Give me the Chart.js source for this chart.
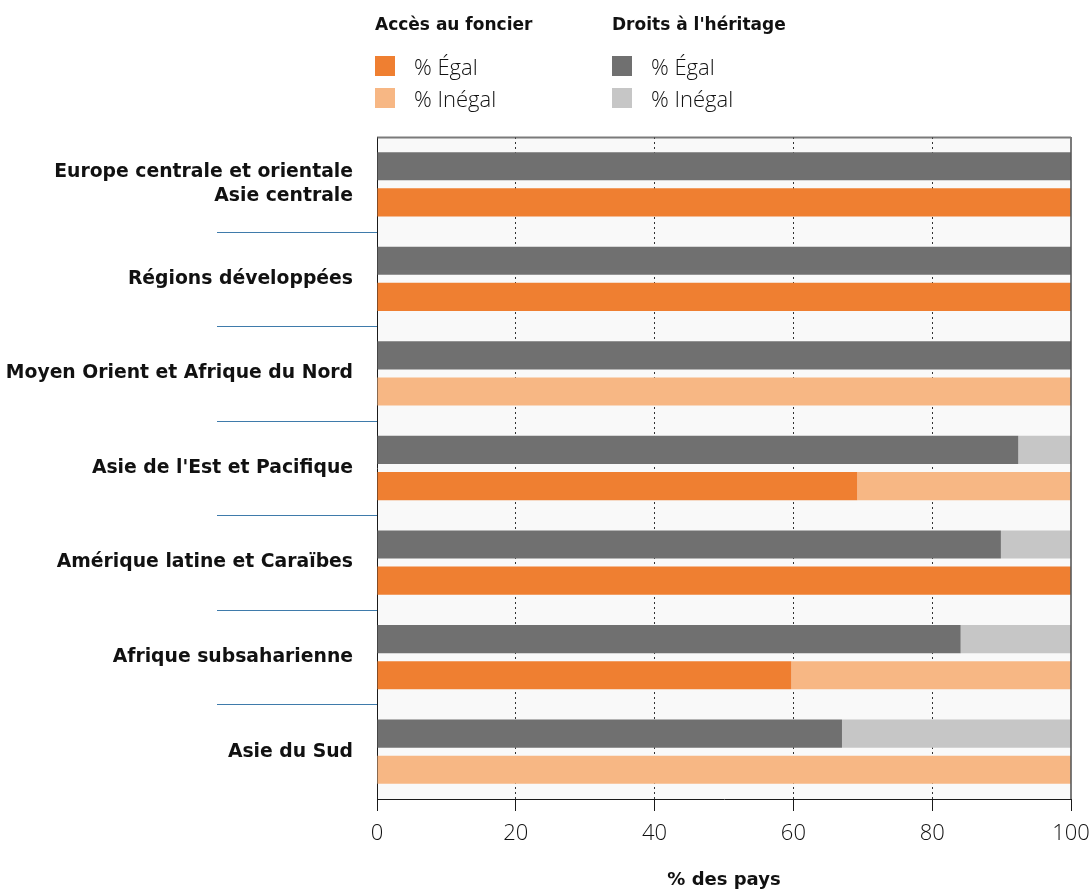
<!DOCTYPE html>
<html lang="fr">
<head>
<meta charset="utf-8">
<script src="https://cdn.jsdelivr.net/npm/chart.js@4/dist/chart.umd.min.js"></script>
<style>
  html, body { margin: 0; padding: 0; background: #ffffff; }
  #wrap { position: relative; width: 1092px; height: 891px; }
  #chart { position: absolute; left: 0; top: 0; }
  .legend { position: absolute; top: 12px; font-family: 'DejaVu Sans', sans-serif; color: #111; }
  .legend h4 { margin: 0 0 14px 0; font-size: 17px; font-weight: bold; line-height: 24px; }
  .legend .item { display: flex; align-items: center; height: 32px; font-family: 'Open Sans', 'Liberation Sans', sans-serif; font-weight: 300; font-size: 22px; }
  .legend .sw { width: 20px; height: 20px; margin-right: 19px; }
</style>
</head>
<body>
<div id="wrap">
  <canvas id="chart" width="1092" height="891"></canvas>
  <div class="legend" id="legFoncier" style="left:375px"></div>
  <div class="legend" id="legHeritage" style="left:612px"></div>
</div>
<script>
// Catégories (régions)
const regions = [
    ['Europe centrale et orientale', 'Asie centrale'],
    'Régions développées',
    'Moyen Orient et Afrique du Nord',
    "Asie de l'Est et Pacifique",
    'Amérique latine et Caraïbes',
    'Afrique subsaharienne',
    'Asie du Sud'
];

// Droits à l'héritage (% des pays)
const heritageEgal   = [100, 100, 100, 92.4, 89.9, 84.1, 67.0];
const heritageInegal = [0, 0, 0, 7.6, 10.1, 15.9, 33.0];

// Accès au foncier (% des pays)
const foncierEgal   = [100, 100, 0, 69.2, 100, 59.7, 0];
const foncierInegal = [0, 0, 100, 30.8, 0, 40.3, 100];

const xTicks = [0, 20, 40, 60, 80, 100];

const COLORS = {
    orange: '#ef7f31',
    orangeSoft: '#f7b784',
    gray: '#707070',
    graySoft: '#c6c6c6',
    sep: '#3f7bab',
    plotBg: '#f9f9f9',
    axis: '#1a1a1a',
    frame: 'rgba(90, 90, 90, 0.8)'
};

const LABEL_FONT = { family: "'DejaVu Sans', sans-serif", size: 18.8, weight: 'bold', lineHeight: 1.25 };
const TICK_FONT = { family: "'Open Sans', 'Liberation Sans', sans-serif", size: 22, weight: '300' };

// légende HTML
function buildLegend(id, title, entries) {
    const el = document.getElementById(id);
    let html = `<h4>${title}</h4>`;
    entries.forEach(([color, text]) => {
        html += `<div class="item"><span class="sw" style="background:${color}"></span>${text}</div>`;
    });
    el.innerHTML = html;
}
buildLegend('legFoncier', 'Accès au foncier', [[COLORS.orange, '% Égal'], [COLORS.orangeSoft, '% Inégal']]);
buildLegend('legHeritage', "Droits à l'héritage", [[COLORS.gray, '% Égal'], [COLORS.graySoft, '% Inégal']]);

// fond de la zone de tracé, cadre et séparateurs bleus
const plotDecor = {
    id: 'plotDecor',
    beforeDraw(chart) {
        const { ctx, chartArea: a } = chart;
        ctx.save();
        ctx.fillStyle = COLORS.plotBg;
        ctx.fillRect(a.left, a.top, a.right - a.left, a.bottom - a.top);
        ctx.restore();
    },
    afterDatasetsDraw(chart) {
        const { ctx, chartArea: a, scales } = chart;
        const y = scales.y;
        ctx.save();
        // cadre haut et droite
        ctx.strokeStyle = COLORS.frame;
        ctx.lineWidth = 2;
        ctx.beginPath();
        ctx.moveTo(a.left, a.top + 0.5);
        ctx.lineTo(a.right, a.top + 0.5);
        ctx.moveTo(a.right, a.top);
        ctx.lineTo(a.right, a.bottom);
        ctx.stroke();
        // séparateurs entre régions, à gauche de l'axe
        ctx.strokeStyle = COLORS.sep;
        ctx.lineWidth = 1;
        for (let i = 0; i < regions.length - 1; i++) {
            const yy = Math.round((y.getPixelForValue(i) + y.getPixelForValue(i + 1)) / 2) + 0.5;
            ctx.beginPath();
            ctx.moveTo(a.left - 160, yy);
            ctx.lineTo(a.left, yy);
            ctx.stroke();
        }
        ctx.restore();
    }
};

const barOpts = { categoryPercentage: 0.765, barPercentage: 0.778, borderWidth: 0, borderSkipped: false };

new Chart(document.getElementById('chart'), {
    type: 'bar',
    data: {
        labels: regions,
        datasets: [
            { label: "Héritage % Égal", data: heritageEgal, backgroundColor: COLORS.gray, stack: 'heritage', ...barOpts },
            { label: "Héritage % Inégal", data: heritageInegal, backgroundColor: COLORS.graySoft, stack: 'heritage', ...barOpts },
            { label: 'Foncier % Égal', data: foncierEgal, backgroundColor: COLORS.orange, stack: 'foncier', ...barOpts },
            { label: 'Foncier % Inégal', data: foncierInegal, backgroundColor: COLORS.orangeSoft, stack: 'foncier', ...barOpts }
        ]
    },
    options: {
        indexAxis: 'y',
        responsive: false,
        animation: false,
        layout: { padding: { top: 137, right: 21, left: 0, bottom: 0 } },
        plugins: {
            legend: { display: false },
            tooltip: { enabled: false }
        },
        scales: {
            x: {
                stacked: true,
                min: 0,
                max: 100,
                afterBuildTicks: scale => { scale.ticks = xTicks.map(v => ({ value: v })); },
                afterFit: scale => {
                    scale.height = 92;
                    scale.paddingLeft = 0;
                    scale.paddingRight = 0;
                },
                ticks: { font: TICK_FONT, color: '#111', padding: 10, maxRotation: 0 },
                grid: {
                    color: ctx => (ctx.tick && (ctx.tick.value === 0 || ctx.tick.value === 100)) ? 'transparent' : '#333',
                    lineWidth: 1,
                    drawTicks: true,
                    tickLength: 12,
                    tickColor: COLORS.axis,
                    tickBorderDash: [],
                    tickWidth: 1
                },
                border: { display: true, color: COLORS.axis, width: 1, dash: [2, 3] },
                title: {
                    display: true,
                    text: '% des pays',
                    font: { family: "'DejaVu Sans', sans-serif", size: 18, weight: 'bold' },
                    color: '#111',
                    padding: { top: 0, bottom: 0 }
                }
            },
            y: {
                stacked: true,
                afterFit: scale => { scale.width = 377; },
                ticks: { font: LABEL_FONT, color: '#111', padding: 24 },
                grid: { display: false, drawTicks: false },
                border: { display: true, color: COLORS.axis, width: 1 }
            }
        }
    },
    plugins: [plotDecor]
});
</script>
</body>
</html>
